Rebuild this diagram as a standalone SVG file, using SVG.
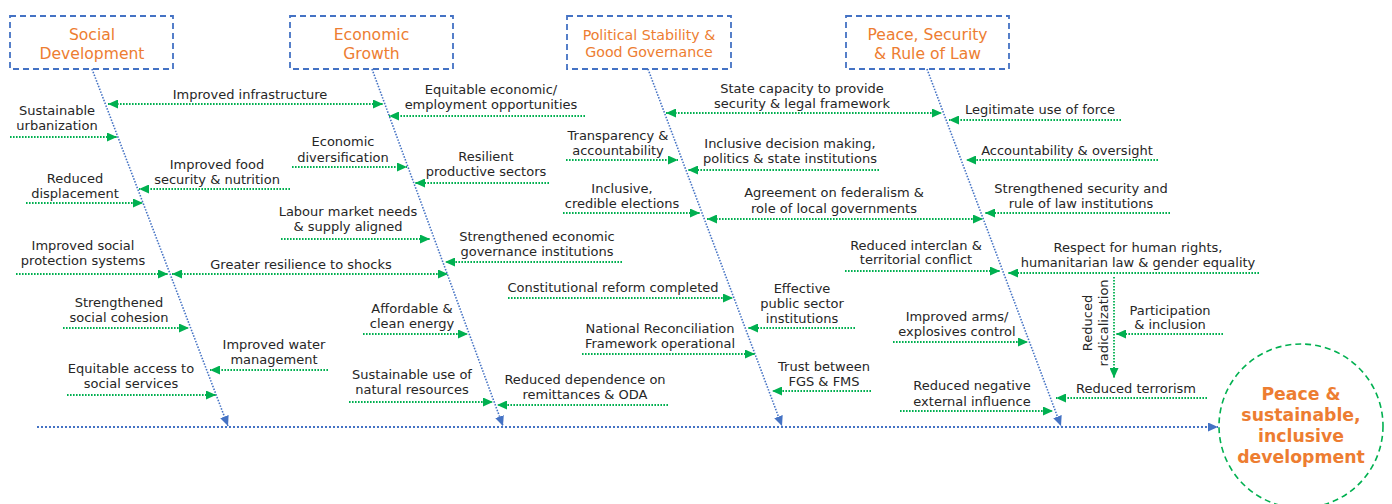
<svg xmlns="http://www.w3.org/2000/svg" width="1392" height="504" viewBox="0 0 1392 504">
<style>
.t{font-family:"DejaVu Sans",Verdana,sans-serif;font-size:13px;fill:#262626;text-anchor:middle}
.h{font-family:"DejaVu Sans",Verdana,sans-serif;font-size:15.6px;fill:#ED7D31;text-anchor:middle}
.hs{font-size:14.2px}
.o{font-family:"DejaVu Sans",Verdana,sans-serif;font-size:17.3px;font-weight:bold;fill:#ED7D31;text-anchor:middle}
.box{fill:none;stroke:#4472C4;stroke-width:1.8;stroke-dasharray:6 4}
.circ{fill:none;stroke:#00B050;stroke-width:1.6;stroke-dasharray:6 4}
.g{fill:none;stroke:#00B050;stroke-width:1.8;stroke-dasharray:1.6 1.4;marker-end:url(#ga)}
.gg{marker-start:url(#ga)}
.sp{fill:none;stroke:#4472C4;stroke-width:1.6;stroke-dasharray:1.5 1.5;marker-end:url(#ba)}
.main{fill:none;stroke:#4472C4;stroke-width:2;stroke-dasharray:2 2;marker-end:url(#ba)}
</style>
<defs>
<marker id="ga" viewBox="0 0 10 9" refX="10" refY="4.5" markerWidth="10" markerHeight="9" markerUnits="userSpaceOnUse" orient="auto-start-reverse"><path d="M0,0 L10,4.5 L0,9 z" fill="#00B050"/></marker>
<marker id="ba" viewBox="0 0 10 9" refX="10" refY="4.5" markerWidth="10" markerHeight="9" markerUnits="userSpaceOnUse" orient="auto"><path d="M0,0 L10,4.5 L0,9 z" fill="#4472C4"/></marker>
</defs>
<rect width="1392" height="504" fill="#fff"/>

<g id="connectors">
<path class="sp" d="M92,69 L228,426"/>
<path class="sp" d="M372,69 L503,426"/>
<path class="sp" d="M648,69 L782,426"/>
<path class="sp" d="M927,69 L1061,426"/>
<path class="main" d="M37,427 L1218,427"/>
<!-- social -->
<path class="g gg" d="M108,104 L383,104"/>
<path class="g" d="M10,137 L117,137"/>
<path class="g" d="M290,189 L139,189"/>
<path class="g" d="M26,203 L143,203"/>
<path class="g" d="M16,274 L168,274"/>
<path class="g gg" d="M172,274 L448,274"/>
<path class="g" d="M63,328 L189,328"/>
<path class="g" d="M328,370 L210,370"/>
<path class="g" d="M67,395 L216,395"/>
<!-- economic -->
<path class="g" d="M585,116 L389,116"/>
<path class="g" d="M292,167 L407,167"/>
<path class="g" d="M549,183 L415,183"/>
<path class="g" d="M281,239 L430,239"/>
<path class="g" d="M622,262 L445,262"/>
<path class="g" d="M363,334 L468,334"/>
<path class="g" d="M349,402 L493,402"/>
<path class="g" d="M668,405 L497,405"/>
<!-- political -->
<path class="g gg" d="M666,113 L942,113"/>
<path class="g" d="M566,160 L678,160"/>
<path class="g" d="M879,170 L688,170"/>
<path class="g" d="M563,213 L700,213"/>
<path class="g gg" d="M707,219 L983,219"/>
<path class="g" d="M508,298 L733,298"/>
<path class="g" d="M855,328 L748,328"/>
<path class="g" d="M582,354 L755,354"/>
<path class="g" d="M871,391 L772,391"/>
<!-- peace -->
<path class="g" d="M1121,120 L949,120"/>
<path class="g" d="M1158,160 L966,160"/>
<path class="g" d="M1170,213 L985,213"/>
<path class="g" d="M845,271 L1000,271"/>
<path class="g" d="M1259,273 L1008,273"/>
<path class="g" d="M1114,277 L1114,378"/>
<path class="g" d="M1223,334 L1116,334"/>
<path class="g" d="M893,342 L1028,342"/>
<path class="g" d="M900,411 L1053,411"/>
<path class="g" d="M1207,398 L1056,398"/>
</g>

<g id="cat-social"><rect class="box" x="10" y="16" width="163" height="53"/><text class="h" x="92" y="40">Social</text><text class="h" x="92" y="59">Development</text></g>
<g id="cat-economic"><rect class="box" x="290" y="16" width="163" height="53"/><text class="h" x="371.5" y="40">Economic</text><text class="h" x="371.5" y="59">Growth</text></g>
<g id="cat-political"><rect class="box" x="567" y="16" width="164" height="53"/><text class="h hs" x="649" y="40">Political Stability &amp;</text><text class="h hs" x="649" y="57">Good Governance</text></g>
<g id="cat-peace"><rect class="box" x="846" y="16" width="163" height="53"/><text class="h" x="927.5" y="40">Peace, Security</text><text class="h" x="927.5" y="59">&amp; Rule of Law</text></g>

<g id="outcome"><circle class="circ" cx="1301" cy="426" r="82"/><text class="o" x="1301" y="400">Peace &amp;</text><text class="o" x="1301" y="421">sustainable,</text><text class="o" x="1301" y="442">inclusive</text><text class="o" x="1301" y="463">development</text></g>

<g id="s1"><text class="t" x="250" y="99">Improved infrastructure</text></g>
<g id="s2"><text class="t" x="57" y="115">Sustainable</text><text class="t" x="57" y="130">urbanization</text></g>
<g id="s3"><text class="t" x="217" y="169">Improved food</text><text class="t" x="217" y="184">security &amp; nutrition</text></g>
<g id="s4"><text class="t" x="75" y="183">Reduced</text><text class="t" x="75" y="198">displacement</text></g>
<g id="s5"><text class="t" x="83" y="250">Improved social</text><text class="t" x="83" y="265">protection systems</text></g>
<g id="s6"><text class="t" x="301" y="269">Greater resilience to shocks</text></g>
<g id="s7"><text class="t" x="119" y="307">Strengthened</text><text class="t" x="119" y="322">social cohesion</text></g>
<g id="s8"><text class="t" x="274" y="349">Improved water</text><text class="t" x="274" y="364">management</text></g>
<g id="s9"><text class="t" x="131" y="373">Equitable access to</text><text class="t" x="131" y="388">social services</text></g>

<g id="e1"><text class="t" x="491" y="94">Equitable economic/</text><text class="t" x="491" y="109">employment opportunities</text></g>
<g id="e2"><text class="t" x="343" y="146">Economic</text><text class="t" x="343" y="162">diversification</text></g>
<g id="e3"><text class="t" x="486" y="161">Resilient</text><text class="t" x="486" y="176">productive sectors</text></g>
<g id="e4"><text class="t" x="348" y="216">Labour market needs</text><text class="t" x="348" y="231">&amp; supply aligned</text></g>
<g id="e5"><text class="t" x="537" y="241">Strengthened economic</text><text class="t" x="537" y="256">governance institutions</text></g>
<g id="e6"><text class="t" x="412" y="313">Affordable &amp;</text><text class="t" x="412" y="328">clean energy</text></g>
<g id="e7"><text class="t" x="412" y="379">Sustainable use of</text><text class="t" x="412" y="394">natural resources</text></g>
<g id="e8"><text class="t" x="585" y="384">Reduced dependence on</text><text class="t" x="585" y="399">remittances &amp; ODA</text></g>

<g id="p1"><text class="t" x="802" y="93">State capacity to provide</text><text class="t" x="802" y="108">security &amp; legal framework</text></g>
<g id="p2"><text class="t" x="618" y="140">Transparency &amp;</text><text class="t" x="618" y="155">accountability</text></g>
<g id="p3"><text class="t" x="790" y="148">Inclusive decision making,</text><text class="t" x="790" y="163">politics &amp; state institutions</text></g>
<g id="p4"><text class="t" x="622" y="193">Inclusive,</text><text class="t" x="622" y="208">credible elections</text></g>
<g id="p5"><text class="t" x="834" y="197">Agreement on federalism &amp;</text><text class="t" x="834" y="213">role of local governments</text></g>
<g id="p6"><text class="t" x="613" y="292">Constitutional reform completed</text></g>
<g id="p7"><text class="t" x="802" y="293">Effective</text><text class="t" x="802" y="308">public sector</text><text class="t" x="802" y="323">institutions</text></g>
<g id="p8"><text class="t" x="660" y="333">National Reconciliation</text><text class="t" x="660" y="348">Framework operational</text></g>
<g id="p9"><text class="t" x="824" y="371">Trust between</text><text class="t" x="824" y="386">FGS &amp; FMS</text></g>

<g id="r1"><text class="t" x="1040" y="114">Legitimate use of force</text></g>
<g id="r2"><text class="t" x="1067" y="155">Accountability &amp; oversight</text></g>
<g id="r3"><text class="t" x="1081" y="193">Strengthened security and</text><text class="t" x="1081" y="208">rule of law institutions</text></g>
<g id="r4"><text class="t" x="916" y="250">Reduced interclan &amp;</text><text class="t" x="916" y="264">territorial conflict</text></g>
<g id="r5"><text class="t" x="1138" y="252">Respect for human rights,</text><text class="t" x="1138" y="267">humanitarian law &amp; gender equality</text></g>
<g id="r6"><text class="t" transform="translate(1092,323) rotate(-90)" x="0" y="0">Reduced</text><text class="t" transform="translate(1108,323) rotate(-90)" x="0" y="0">radicalization</text></g>
<g id="r7"><text class="t" x="1170" y="315">Participation</text><text class="t" x="1170" y="329">&amp; inclusion</text></g>
<g id="r8"><text class="t" x="957" y="321">Improved arms/</text><text class="t" x="957" y="336">explosives control</text></g>
<g id="r9"><text class="t" x="972" y="390">Reduced negative</text><text class="t" x="972" y="406">external influence</text></g>
<g id="r10"><text class="t" x="1136" y="393">Reduced terrorism</text></g>
</svg>
